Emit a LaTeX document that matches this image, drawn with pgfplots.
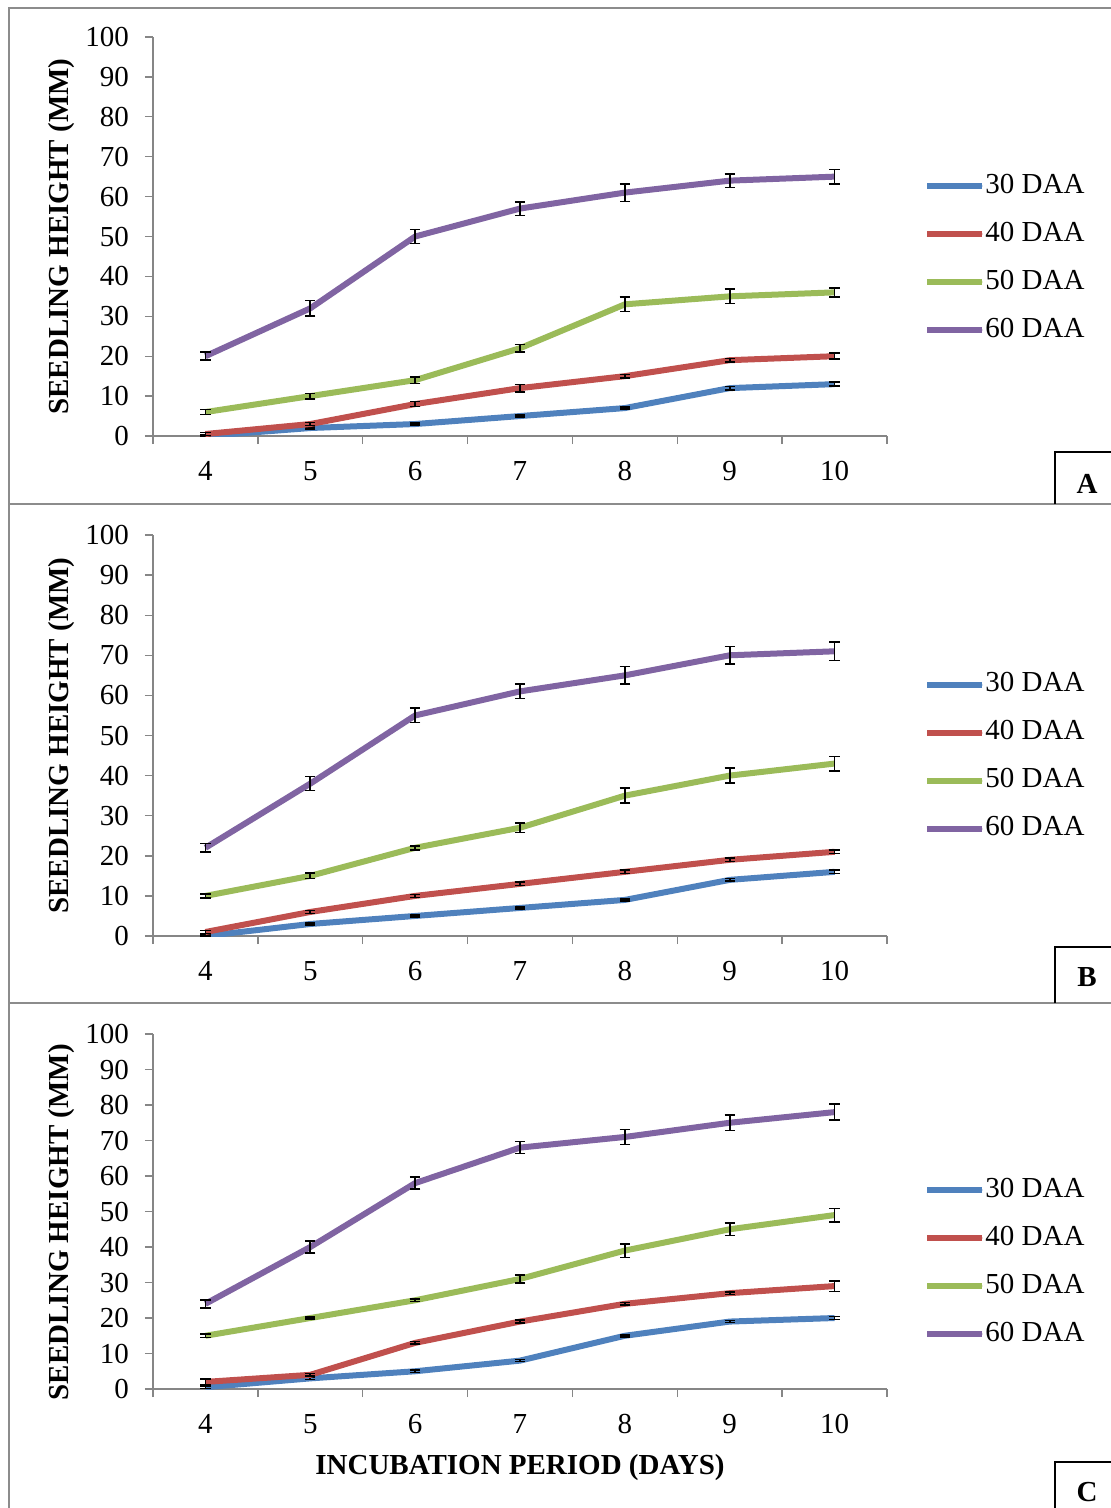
\documentclass[border=0pt]{standalone}
\usepackage{fontspec}
\setmainfont{Liberation Serif}
\usepackage{pgfplots}
\usepackage{pgfplotstable}
\pgfplotsset{compat=1.18}
\definecolor{s30}{HTML}{4F81BD}
\definecolor{s40}{HTML}{C0504D}
\definecolor{s50}{HTML}{9BBB59}
\definecolor{s60}{HTML}{8064A2}
\definecolor{axgray}{HTML}{868686}
\definecolor{framegray}{HTML}{8C8C8C}

\pgfplotstableread{
x a30 e30 a40 e40 a50 e50 a60 e60
4 0 0.3 0.5 0.4 6 0.6 20 1
5 2 0.3 3 0.4 10 0.7 32 2
6 3 0.3 8 0.6 14 0.8 50 1.75
7 5 0.3 12 0.9 22 0.9 57 1.7
8 7 0.3 15 0.4 33 1.8 61 2.2
9 12 0.4 19 0.4 35 1.8 64 1.7
10 13 0.5 20 0.75 36 1.1 65 1.8
}\dataA
\pgfplotstableread{
x a30 e30 a40 e40 a50 e50 a60 e60
4 0 0.3 1 0.4 10 0.5 22 1.1
5 3 0.3 6 0.4 15 0.7 38 1.75
6 5 0.3 10 0.4 22 0.5 55 1.8
7 7 0.3 13 0.4 27 1.2 61 1.8
8 9 0.3 16 0.4 35 1.9 65 2.2
9 14 0.3 19 0.4 40 1.9 70 2.2
10 16 0.4 21 0.4 43 1.8 71 2.3
}\dataB
\pgfplotstableread{
x a30 e30 a40 e40 a50 e50 a60 e60
4 0.5 0.3 2 0.75 15 0.5 24 1.1
5 3 0.3 4 0.4 20 0.3 40 1.7
6 5 0.3 13 0.4 25 0.3 58 1.7
7 8 0.3 19 0.4 31 1.2 68 1.7
8 15 0.3 24 0.4 39 1.9 71 2.1
9 19 0.3 27 0.4 45 1.8 75 2.2
10 20 0.4 29 1.5 49 1.9 78 2.25
}\dataC

\pgfplotsset{
  panel/.style={
    scale only axis, width=367pt,
    xmin=3.5, xmax=10.5, ymin=0, ymax=100,
    enlargelimits=false,
    axis lines=left,
    axis line style={-, draw=axgray, line width=0.7pt},
    tick align=outside,
    xtick={4,...,10},
    minor xtick={3.5,4.5,...,10.5},
    major x tick style={draw=none},
    minor x tick style={draw=axgray, line width=0.7pt},
    ytick={0,10,...,100},
    y tick style={draw=axgray, line width=0.7pt},
    major tick length=4pt, minor tick length=4pt,
    /pgf/number format/assume math mode=true,
    font=\fontsize{14.5}{17}\selectfont,
    xticklabel style={yshift=-5pt},
    yticklabel style={xshift=-4.5pt},
    ylabel={\textbf{SEEDLING HEIGHT (MM)}},
    ylabel style={at={(axis description cs:-0.124,0.5)}, anchor=center, rotate=0},
    legend cell align=left,
    legend image code/.code={\path (0pt,0pt) -- (27.5pt,0pt);
      \draw[#1, line cap=round, line width=3pt] (1.5pt,0pt) -- (26pt,0pt);},
    legend style={draw=none, fill=none, inner sep=0pt, row sep=11pt,
      font=\fontsize{14.5}{17}\selectfont,
      nodes={inner sep=0pt, text height=10pt, text depth=3pt},
      /tikz/every even column/.append style={column sep=1.5pt}},
    every axis plot/.append style={line width=3pt, line join=round, no markers},
    error bars/error bar style={line width=0.8pt, black, solid},
    error bars/error mark options={rotate=90, mark size=2.6pt, line width=0.8pt, black},
  },
}

\newcommand{\series}[1]{%
  \addplot[s30, error bars/.cd, y dir=both, y explicit] table[x=x, y=a30, y error=e30] {#1};
  \addplot[s40, error bars/.cd, y dir=both, y explicit] table[x=x, y=a40, y error=e40] {#1};
  \addplot[s50, error bars/.cd, y dir=both, y explicit] table[x=x, y=a50, y error=e50] {#1};
  \addplot[s60, error bars/.cd, y dir=both, y explicit] table[x=x, y=a60, y error=e60] {#1};
  \legend{30 DAA, 40 DAA, 50 DAA, 60 DAA}
}

\begin{document}
\begin{tikzpicture}[x=0.5pt, y=-0.5pt]
\useasboundingbox (0,0) rectangle (1111,1508);
% frames
\draw[framegray, line width=1.1pt] (9,1512) -- (9,8) -- (1115,8);
\draw[framegray, line width=1.1pt] (9,504) -- (1115,504);
\draw[framegray, line width=1.1pt] (9,1003) -- (1115,1003);

\begin{axis}[panel, height=199.5pt, at={(76.5pt,-218pt)}, anchor=south west,
  legend style={at={(axis description cs:1.0504,0.66)}, anchor=north west}]
\series{\dataA}
\end{axis}

\begin{axis}[panel, height=200.5pt, at={(76.5pt,-468pt)}, anchor=south west,
  legend style={at={(axis description cs:1.0504,0.66)}, anchor=north west}]
\series{\dataB}
\end{axis}

\begin{axis}[panel, height=177.5pt, at={(76.5pt,-694.5pt)}, anchor=south west,
  ylabel style={at={(axis description cs:-0.124,0.47)}},
  xlabel={\textbf{INCUBATION PERIOD (DAYS)}},
  xlabel style={at={(axis description cs:0.5,-0.222)}, anchor=center},
  legend style={at={(axis description cs:1.0504,0.598)}, anchor=north west}]
\series{\dataC}
\end{axis}

% panel letters
\draw[black, line width=1pt] (1055,504) -- (1055,452) -- (1115,452);
\node[font=\fontsize{14.5}{17}\selectfont\bfseries] at (1087,484) {A};
\draw[black, line width=1pt] (1055,1003) -- (1055,947) -- (1115,947);
\node[font=\fontsize{14.5}{17}\selectfont\bfseries] at (1087,977) {B};
\draw[black, line width=1pt] (1055,1512) -- (1055,1462) -- (1115,1462);
\node[font=\fontsize{14.5}{17}\selectfont\bfseries] at (1087,1492) {C};
\end{tikzpicture}
\end{document}
